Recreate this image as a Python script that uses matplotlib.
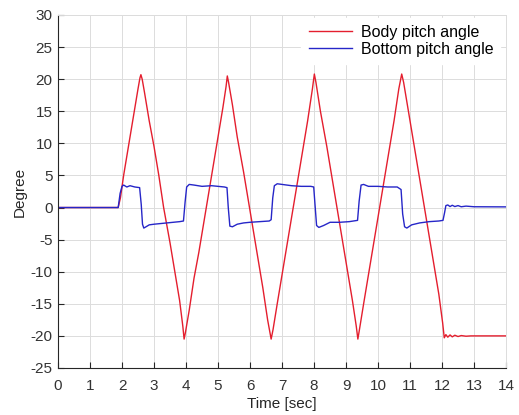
import numpy as np
import matplotlib
matplotlib.use("Agg")
import matplotlib.pyplot as plt

plt.rcParams['font.family'] = ['Liberation Sans', 'DejaVu Sans']
plt.rcParams['axes.unicode_minus'] = False

# Body pitch angle (time [s], degree)
body_t = [0.0, 1.88, 1.95, 2.05, 2.2, 2.3, 2.4, 2.5, 2.56, 2.59, 2.63, 2.7, 2.85, 3.0, 3.15,
          3.3, 3.5, 3.65, 3.8, 3.9, 3.94, 3.98, 4.1, 4.25, 4.4, 4.6, 4.8, 5.0, 5.15, 5.25, 5.29,
          5.33, 5.45, 5.6, 5.8, 6.0, 6.2, 6.4, 6.55, 6.66, 6.72, 6.85, 7.0, 7.2, 7.4, 7.6,
          7.8, 7.95, 8.01, 8.06, 8.2, 8.4, 8.6, 8.8, 9.0, 9.2, 9.32, 9.37, 9.42, 9.55, 9.7,
          9.9, 10.1, 10.3, 10.5, 10.65, 10.74, 10.8, 10.95, 11.1, 11.3, 11.5, 11.7, 11.9,
          12.02, 12.07, 12.12, 12.18, 12.25, 12.32, 12.4, 12.5, 12.6, 12.75, 12.9, 14.0]
body_v = [0.0, 0.0, 1.5, 5.0, 9.5, 12.5, 15.5, 18.5, 20.2, 20.7, 20.0, 18.0, 13.5, 9.5, 5.0,
          0.0, -5.5, -10.0, -14.5, -18.5, -20.5, -19.5, -16.0, -11.0, -7.0, -1.0, 5.0, 11.0, 15.5, 18.8, 20.5,
          19.5, 16.0, 11.0, 5.5, -0.5, -6.5, -12.5, -17.5, -20.5, -19.0, -15.0, -10.5, -4.5, 1.5, 7.5,
          13.5, 18.5, 20.8, 19.5, 15.0, 9.5, 3.5, -2.5, -8.5, -14.5, -18.5, -20.5, -19.0, -15.0, -10.5,
          -4.5, 1.5, 7.5, 13.5, 18.5, 20.8, 19.5, 15.0, 10.5, 4.5, -1.5, -7.5, -13.5,
          -18.0, -20.3, -19.8, -20.2, -19.85, -20.15, -19.9, -20.1, -19.95, -20.05, -20.0, -20.0]

# Bottom pitch angle (time [s], degree)
bottom_t = [0.0, 1.88, 1.94, 2.0, 2.05, 2.15, 2.25, 2.4, 2.55, 2.6, 2.64, 2.68, 2.75, 2.85, 3.0,
            3.2, 3.4, 3.6, 3.8, 3.92, 3.97, 4.02, 4.1, 4.25, 4.5, 4.8, 5.0, 5.2, 5.28, 5.32, 5.37,
            5.45, 5.6, 5.8, 6.0, 6.3, 6.6, 6.66, 6.71, 6.76, 6.85, 7.0, 7.3, 7.6, 7.9, 7.99, 8.03, 8.08,
            8.15, 8.3, 8.5, 8.8, 9.1, 9.36, 9.41, 9.47, 9.55, 9.7, 10.0, 10.3, 10.6, 10.72, 10.77,
            10.83, 10.9, 11.05, 11.3, 11.6, 11.9, 12.03, 12.08, 12.12, 12.18, 12.25, 12.32, 12.4,
            12.5, 12.6, 12.75, 13.0, 14.0]
bottom_v = [0.0, 0.0, 2.2, 3.3, 3.5, 3.2, 3.4, 3.2, 3.1, 0.5, -2.6, -3.2, -3.0, -2.7, -2.6,
            -2.5, -2.4, -2.3, -2.2, -2.1, 0.8, 3.2, 3.6, 3.5, 3.3, 3.4, 3.3, 3.2, 3.1, 0.0, -2.9,
            -3.0, -2.6, -2.4, -2.3, -2.2, -2.1, -1.9, 1.5, 3.4, 3.7, 3.6, 3.4, 3.3, 3.3, 3.2, 0.5, -2.8,
            -3.1, -2.8, -2.3, -2.3, -2.2, -2.0, 1.0, 3.5, 3.6, 3.3, 3.3, 3.2, 3.2, 2.8, -1.0,
            -3.0, -3.2, -2.7, -2.4, -2.2, -2.1, -2.0, -0.8, 0.3, 0.4, 0.15, 0.35, 0.15,
            0.3, 0.12, 0.22, 0.12, 0.1]

xticks = list(range(0, 15))
yticks = list(range(-25, 31, 5))

fig = plt.figure(figsize=(5.19, 4.15), dpi=100)
ax = fig.add_axes([0.1118, 0.1133, 0.8632, 0.8506])

ax.plot(body_t, body_v, color='#e41e2e', lw=1.0, label='Body pitch angle')
ax.plot(bottom_t, bottom_v, color='#2626c8', lw=1.0, label='Bottom pitch angle')

ax.set_xlim(0, 14)
ax.set_ylim(-25, 30)
ax.set_xticks(xticks)
ax.set_yticks(yticks)
ax.grid(True, color='#dcdcdc', lw=0.7)
ax.set_axisbelow(True)
ax.tick_params(direction='in', length=4, labelsize=11, colors='#262626', labelcolor='#333333', width=0.8)
ax.tick_params(axis='x', pad=8)
ax.tick_params(axis='y', pad=4)
ax.tick_params(top=False, right=False)
for s in ['left', 'bottom']:
    ax.spines[s].set_color('#262626')
    ax.spines[s].set_linewidth(0.8)
for s in ['top', 'right']:
    ax.spines[s].set_color('#dcdcdc')
    ax.spines[s].set_linewidth(0.7)

ax.set_xlabel('Time [sec]', fontsize=11, color='#262626', labelpad=3)
ax.set_ylabel('Degree', fontsize=11, color='#262626', labelpad=3)

leg = ax.legend(loc='upper right', bbox_to_anchor=(0.998, 1.006), fontsize=11.5, frameon=True,
                fancybox=False, edgecolor='white', framealpha=1.0, handlelength=2.7,
                handletextpad=0.55, borderaxespad=0.3, borderpad=0.45, labelspacing=0.12)

fig.savefig('out.png', dpi=100)
